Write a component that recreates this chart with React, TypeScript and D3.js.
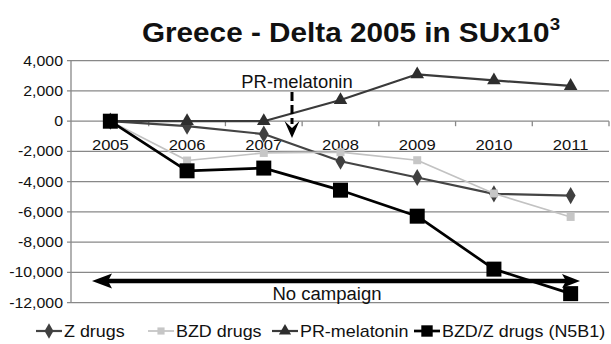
import React from "react";
import * as d3 from "d3";

// Change versus 2005, in standard units x 1000
const years = ["2005", "2006", "2007", "2008", "2009", "2010", "2011"];
const zDrugs = [0, -330, -850, -2650, -3720, -4800, -4920];
const bzdDrugs = [0, -2600, -2100, -2050, -2580, -4780, -6330];
const prMelatonin = [0, 0, 0, 1400, 3100, 2700, 2330];
const bzdZDrugs = [0, -3280, -3100, -4560, -6280, -9780, -11400];
const yTicks = [4000, 2000, 0, -2000, -4000, -6000, -8000, -10000, -12000];

const seriesNames = ["Z drugs", "BZD drugs", "PR-melatonin", "BZD/Z drugs (N5B1)"];

const W = 611;
const H = 344;
const FONT = "'Liberation Sans', Arial, Helvetica, sans-serif";

const x = d3.scaleBand<string>().domain(years).range([72, 609]);
const y = d3.scaleLinear().domain([-12000, 4000]).range([302.7, 60.7]);
const cx = (yr: string) => (x(yr) as number) + x.bandwidth() / 2;

const fmt = (v: number) => (v < 0 ? "-" : "") + d3.format(",")(Math.abs(v));

type MarkerKind = "diamond" | "square" | "triangle" | "bigSquare";

const styles: { data: number[]; color: string; width: number; marker: MarkerKind; size: number; mColor: string }[] = [
  { data: zDrugs, color: "#444", width: 2.2, marker: "diamond", size: 85, mColor: "#404040" },
  { data: bzdDrugs, color: "#c2c2c2", width: 1.7, marker: "square", size: 64, mColor: "#c6c6c6" },
  { data: prMelatonin, color: "#3a3a3a", width: 2.2, marker: "triangle", size: 80, mColor: "#2e2e2e" },
  { data: bzdZDrugs, color: "#000", width: 2.7, marker: "bigSquare", size: 225, mColor: "#000" },
];

const symbolFor = (m: MarkerKind) =>
  m === "diamond" ? d3.symbolDiamond : m === "triangle" ? d3.symbolTriangle : d3.symbolSquare;

function Txt(props: {
  x: number;
  y: number;
  size: number;
  sx?: number;
  anchor?: string;
  weight?: string | number;
  children: React.ReactNode;
}) {
  const { x: tx, y: ty, size, sx = 1, anchor = "start", weight = "normal", children } = props;
  return (
    <text
      transform={`translate(${tx},${ty}) scale(${sx},1)`}
      fontSize={size}
      fontFamily={FONT}
      fontWeight={weight}
      textAnchor={anchor}
      fill="#111"
    >
      {children}
    </text>
  );
}

// legend entry origins (start of each sample line)
const legendX = [36, 148, 272, 414];

export default function App() {
  const line = d3
    .line<number>()
    .x((_, i) => cx(years[i]))
    .y((v) => y(v));

  const plotLeft = 71;
  const plotRight = 609;

  return (
    <svg
      width={W}
      height={H}
      style={{ position: "absolute", left: 0, top: 0, background: "#fff" }}
    >
      {/* Title */}
      <text x={351} y={42} fontFamily={FONT} fontWeight="bold" fontSize={27} textAnchor="middle" fill="#111"
        transform="translate(351,0) scale(1.1,1) translate(-351,0)">
        Greece - Delta 2005 in SUx10
        <tspan fontSize={17} dy={-12}>3</tspan>
      </text>

      {/* Gridlines */}
      {yTicks.map((t) => (
        <line key={t} x1={plotLeft - 4} x2={plotRight} y1={y(t)} y2={y(t)} stroke="#888" strokeWidth={1.3} />
      ))}
      {/* Y axis */}
      <line x1={plotLeft} x2={plotLeft} y1={y(4000)} y2={y(-12000)} stroke="#888" strokeWidth={1.3} />
      {yTicks.map((t) => (
        <Txt key={"l" + t} x={63} y={y(t) + 5} size={15} sx={1.06} anchor="end">
          {fmt(t)}
        </Txt>
      ))}

      {/* Category ticks on the zero line */}
      {years.map((yr) => (
        <line key={"t" + yr} x1={(x(yr) as number) + x.bandwidth()} x2={(x(yr) as number) + x.bandwidth()}
          y1={y(0)} y2={y(0) + 5} stroke="#888" strokeWidth={1.3} />
      ))}
      {years.map((yr) => (
        <Txt key={"c" + yr} x={cx(yr)} y={150} size={15.5} sx={1.07} anchor="middle">
          {yr}
        </Txt>
      ))}

      {/* Series */}
      {styles.map((s, si) => (
        <g key={si}>
          <path d={line(s.data) || ""} fill="none" stroke={s.color} strokeWidth={s.width} strokeLinejoin="round" />
          {s.data.map((v, i) => (
            <path
              key={i}
              d={d3.symbol().type(symbolFor(s.marker)).size(s.size)() || ""}
              transform={`translate(${cx(years[i])},${y(v)})`}
              fill={s.mColor}
            />
          ))}
        </g>
      ))}

      {/* PR-melatonin launch annotation */}
      <Txt x={297} y={88} size={17.5} sx={1.05} anchor="middle">PR-melatonin</Txt>
      <line x1={292} x2={292} y1={92} y2={124} stroke="#000" strokeWidth={3} strokeDasharray="9,4" />
      <path d="M284.5,121 L292,138 L299.5,121 L292,128 Z" fill="#000" />

      {/* No campaign span */}
      <line x1={100} x2={572} y1={281} y2={281} stroke="#000" strokeWidth={4.5} />
      <path d="M92,281 L112,273.5 L108,281 L112,288.5 Z" fill="#000" />
      <path d="M580,281 L562,274 L566,281 L562,288 Z" fill="#000" />
      <Txt x={327} y={300} size={18} sx={1.03} anchor="middle">No campaign</Txt>

      {/* Legend */}
      {styles.map((s, i) => (
        <g key={"lg" + i} transform={`translate(${legendX[i]},331)`}>
          <line x1={0} x2={26} y1={0} y2={0} stroke={s.color} strokeWidth={s.width} />
          <path
            d={d3.symbol().type(symbolFor(s.marker)).size(s.marker === "bigSquare" ? 130 : s.size * 0.8)() || ""}
            transform="translate(13,0)"
            fill={s.mColor}
          />
          <Txt x={28} y={5.8} size={16} sx={1.12}>{seriesNames[i]}</Txt>
        </g>
      ))}
    </svg>
  );
}
